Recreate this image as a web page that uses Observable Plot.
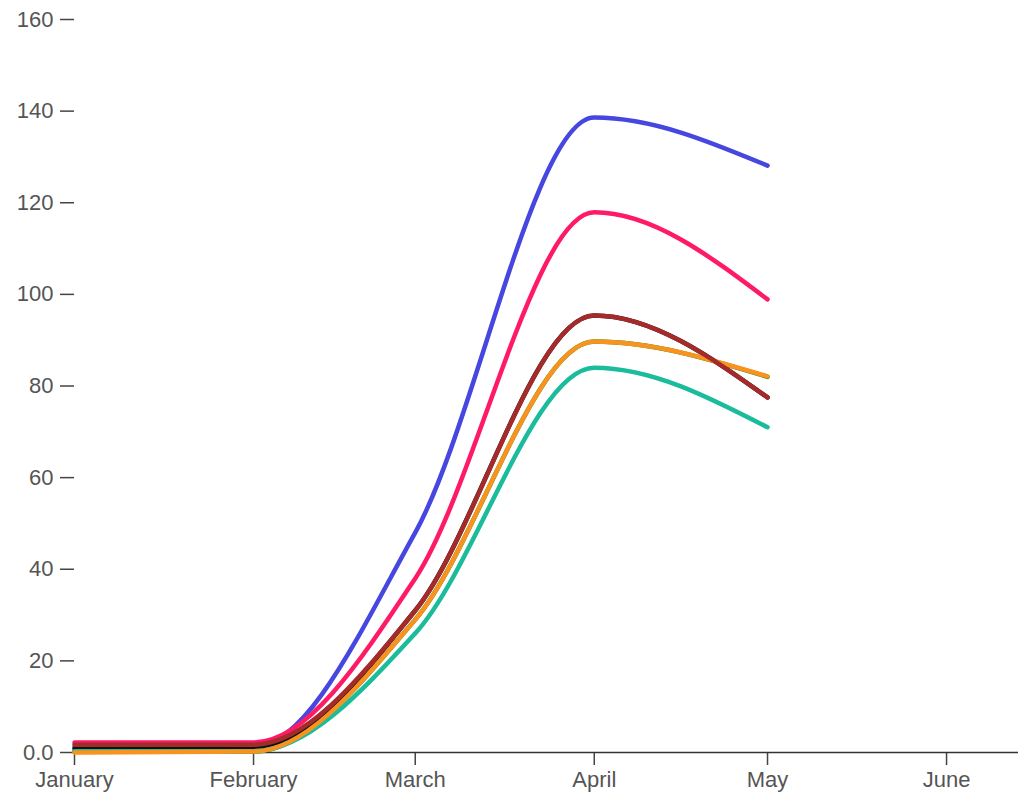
<!DOCTYPE html>
<html>
<head>
<meta charset="utf-8">
<script src="https://cdn.jsdelivr.net/npm/d3@7"></script>
<script src="https://cdn.jsdelivr.net/npm/@observablehq/plot@0.6"></script>
<style>
  html, body { margin: 0; padding: 0; background: #fff; }
</style>
</head>
<body>
<div id="chart"></div>
<script>
// ---- data ----
const monthLabels = ["January", "February", "March", "April", "May", "June"];
const pointMonths = [0, 1, 2, 3, 4]; // month indices of data points (Jan..May)
const yTicks = [0, 20, 40, 60, 80, 100, 120, 140, 160];
const yTickLabels = ["0.0", "20", "40", "60", "80", "100", "120", "140", "160"];

// drawing order: first listed is drawn first (underneath)
const seriesNames = ["Series A", "Series B", "Series G", "Series F", "Series E", "Series D", "Series C"];
const seriesColors = ["#4646e0", "#ff1a66", "#0a8a0a", "#111111", "#1abc9c", "#f7931e", "#a52a2a"];

const blueValues   = [1.2, 1.2, 48, 138.6, 128.1];
const pinkValues   = [2.2, 2.2, 38, 117.9, 98.9];
const greenValues  = [0.2, 0.2, 29, 89.7, 82];
const blackValues  = [0.8, 0.8, 31, 95.4, 77.5];
const tealValues   = [0.3, 0.3, 26, 84.0, 71.0];
const orangeValues = [0.0, 0.2, 29, 89.7, 82.1];
const brownValues  = [1.7, 1.7, 31, 95.4, 77.5];

const seriesValues = [blueValues, pinkValues, greenValues, blackValues, tealValues, orangeValues, brownValues];

// ---- build table ----
const year = 2021;
const data = [];
seriesNames.forEach((name, s) => {
  seriesValues[s].forEach((v, i) => {
    data.push({series: name, date: new Date(Date.UTC(year, pointMonths[i], 1)), value: v});
  });
});
const xTicks = monthLabels.map((m, i) => new Date(Date.UTC(year, i, 1)));

const chart = Plot.plot({
  width: 1018,
  height: 793,
  marginLeft: 74,
  marginRight: 0,
  marginTop: 19,
  marginBottom: 41,
  style: {fontFamily: "'Liberation Sans', Arial, sans-serif", fontSize: "22px", color: "#555", background: "#fff"},
  x: {type: "utc", domain: [new Date(Date.UTC(year, 0, 1)), new Date(Date.UTC(year, 5, 13, 11))]},
  y: {domain: [0, 160]},
  color: {type: "ordinal", domain: seriesNames, range: seriesColors},
  marks: [
    Plot.axisY({ticks: yTicks, tickFormat: d => yTickLabels[yTicks.indexOf(d)], tickSize: 14, tickPadding: 7, label: null, stroke: "#444", strokeWidth: 1.5}),
    Plot.axisX({ticks: xTicks, tickFormat: d => monthLabels[xTicks.findIndex(t => +t === +d)], tickSize: 13, tickPadding: 6, label: null, stroke: "#444", strokeWidth: 1.5}),
    Plot.ruleY([0], {stroke: "#333", strokeWidth: 1.5}),
    Plot.line(data, {x: "date", y: "value", z: "series", stroke: "series", curve: "monotone-x", strokeWidth: 4.5, strokeLinecap: "round", strokeLinejoin: "round"})
  ]
});
document.getElementById("chart").appendChild(chart);
</script>
</body>
</html>
